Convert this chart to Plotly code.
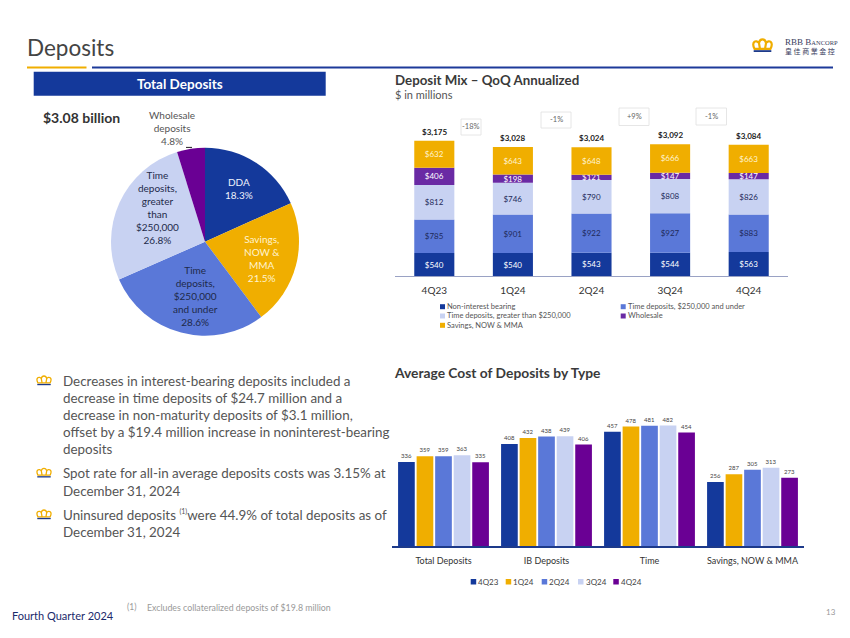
import plotly.graph_objects as go
import numpy as np

W, H = 850, 638
FONT = "Lato"
NAVY = "#14399b"
GOLD = "#f0ae00"
MID = "#5a78d8"
PALE = "#c8d2f2"
PURPLE = "#6a0094"
TXT = "#555555"

# ---------- data ----------
pie_labels = ["DDA", "Savings, NOW & MMA", "Time deposits, $250,000 and under",
              "Time deposits, greater than $250,000", "Wholesale deposits"]
pie_values = [18.3, 21.5, 28.6, 26.8, 4.8]

quarters = ["4Q23", "1Q24", "2Q24", "3Q24", "4Q24"]
non_interest = [540, 540, 543, 544, 563]
time_under = [785, 901, 922, 927, 883]
time_over = [812, 746, 790, 808, 826]
wholesale = [406, 198, 121, 147, 147]
savings = [632, 643, 648, 666, 663]
totals = [3175, 3028, 3024, 3092, 3084]
qoq_labels = ["-18%", "-1%", "+9%", "-1%"]

cost_categories = ["Total Deposits", "IB Deposits", "Time", "Savings, NOW & MMA"]
cost_4q23 = [336, 408, 457, 256]
cost_1q24 = [359, 432, 478, 287]
cost_2q24 = [359, 438, 481, 305]
cost_3q24 = [363, 439, 482, 313]
cost_4q24 = [335, 406, 454, 273]

bullets = [
    ["Decreases in interest-bearing deposits included a",
     "decrease in time deposits of $24.7 million and a",
     "decrease in non-maturity deposits of $3.1 million,",
     "offset by a $19.4 million increase in noninterest-bearing",
     "deposits"],
    ["Spot rate for all-in average deposits costs was 3.15% at",
     "December 31, 2024"],
    ["Uninsured deposits <sup><span style='font-size:7px'>(1)</span></sup>were 44.9% of total deposits as of",
     "December 31, 2024"],
]

# ---------- helpers ----------
def px(x): return x / W
def py(y): return 1 - y / H

annotations, shapes = [], []

def text(x, y, s, size=11, color=TXT, anchor="left", bold=False, family=FONT):
    annotations.append(dict(
        x=px(x), y=py(y), xref="paper", yref="paper", text=f"<b>{s}</b>" if bold else s,
        showarrow=False, xanchor=anchor, yanchor="middle", align=anchor,
        font=dict(size=size, color=color, family=family),
        borderpad=0, borderwidth=0))

def rect(x0, y0, x1, y1, fill, line=None, lw=0):
    shapes.append(dict(type="rect", xref="paper", yref="paper",
                       x0=px(x0), x1=px(x1), y0=py(y0), y1=py(y1),
                       fillcolor=fill, line=dict(color=line or fill, width=lw), layer="above"))

def crown(x, y, w, h, lw=1.2):
    def P(a, b):
        return f"{px(x + a * w):.5f},{py(y + b * h):.5f}"
    d = (f"M{P(.12,.76)} C{P(-.05,.2)} {P(.2,.03)} {P(.33,.3)} "
         f"C{P(.38,-.06)} {P(.62,-.06)} {P(.67,.3)} "
         f"C{P(.8,.03)} {P(1.05,.2)} {P(.88,.76)} Z "
         f"M{P(.33,.3)} L{P(.38,.76)} M{P(.67,.3)} L{P(.62,.76)}")
    shapes.append(dict(type="path", xref="paper", yref="paper", path=d,
                       line=dict(color=GOLD, width=lw), fillcolor="rgba(0,0,0,0)", layer="above"))
    rect(x + .08 * w, y + .86 * h, x + .92 * w, y + h, "#1d3a8a")

fig = go.Figure()

# ---------- pie ----------
cx, cy, r = 205, 241.7, 94
fig.add_trace(go.Pie(
    labels=pie_labels, values=pie_values, sort=False, direction="clockwise", rotation=0,
    marker=dict(colors=[NAVY, GOLD, MID, PALE, PURPLE], line=dict(width=0)),
    textinfo="none", showlegend=False,
    domain=dict(x=[px(cx - r), px(cx + r)], y=[py(cy + r), py(cy - r)])))

text(239, 189, "DDA<br>18.3%", 10, "#eef1fb", "center")
text(262, 259, "Savings,<br>NOW &amp;<br>MMA<br>21.5%", 10, "#fff3cf", "center")
text(195, 296, "Time<br>deposits,<br>$250,000<br>and under<br>28.6%", 10, "#1e2a4a", "center")
text(157, 208, "Time<br>deposits,<br>greater<br>than<br>$250,000<br>26.8%", 10, "#1e2a4a", "center")
text(172, 128, "Wholesale<br>deposits<br>4.8%", 10, TXT, "center")
shapes.append(dict(type="line", xref="paper", yref="paper", x0=px(186), x1=px(192),
                   y0=py(147.4), y1=py(147.4), line=dict(color="#222222", width=1)))

# ---------- stacked mix chart ----------
MIX_BOTTOM, MIX_TOP = 276, 100
PX_PER_UNIT = 0.0426
stack = [(non_interest, "Non-interest bearing", NAVY, "#ffffff"),
         (time_under, "Time deposits, $250,000 and under", MID, "#1e2a5a"),
         (time_over, "Time deposits, greater than $250,000", PALE, "#1e2a5a"),
         (wholesale, "Wholesale", "#6a2aa4", "#ffffff"),
         (savings, "Savings, NOW & MMA", GOLD, "#fff3cf")]
base = np.zeros(len(quarters))
for vals, name, col, tcol in stack:
    fig.add_trace(go.Bar(
        x=quarters, y=vals, base=base.tolist(), name=name, xaxis="x", yaxis="y",
        marker=dict(color=col, line=dict(width=0)), width=0.51, offset=-0.255,
        offsetgroup="mix", text=[f"${v}" for v in vals], textposition="inside",
        insidetextanchor="middle", constraintext="none", textangle=0,
        insidetextfont=dict(size=8, color=tcol, family=FONT), showlegend=False))
    base = base + np.array(vals)

for q, t in zip(quarters, totals):
    annotations.append(dict(x=q, y=t, xref="x", yref="y", yshift=9, showarrow=False,
                            text=f"<b>${t:,}</b>", xanchor="center", yanchor="middle",
                            font=dict(size=8, color="#222222", family=FONT)))

# ---------- cost chart ----------
COST_BOTTOM, COST_TOP = 546, 410
cost_series = [("4Q23", cost_4q23, NAVY), ("1Q24", cost_1q24, GOLD), ("2Q24", cost_2q24, MID),
               ("3Q24", cost_3q24, PALE), ("4Q24", cost_4q24, PURPLE)]
for name, vals, col in cost_series:
    fig.add_trace(go.Bar(
        x=cost_categories, y=vals, name=name, xaxis="x2", yaxis="y2",
        marker=dict(color=col, line=dict(width=0)), text=vals, textposition="outside",
        constraintext="none", textangle=0, cliponaxis=False,
        outsidetextfont=dict(size=6, color="#444444", family=FONT), showlegend=False))

# ---------- qoq boxes ----------
boxes = [(461, 119, 481, 135), (541, 112, 571, 128), (619, 108, 649, 125.5), (696, 108, 726.5, 125)]
for (x0, y0, x1, y1), s in zip(boxes, qoq_labels):
    rect(x0, y0, x1, y1, "#ffffff", "#dfdfdf", 0.8)
    text((x0 + x1) / 2, (y0 + y1) / 2, s, 7.5, "#666666", "center")

# ---------- custom legends ----------
mix_legend = [(440, 306.7, NAVY, stack[0][1]), (440, 316, PALE, stack[2][1]), (440, 325.3, GOLD, stack[4][1]),
              (620.7, 306.7, MID, stack[1][1]), (620.7, 316, "#6a2aa4", stack[3][1])]
for x, y, col, s in mix_legend:
    rect(x, y - 2.5, x + 5, y + 2.5, col)
    text(x + 6.8, y, s.replace("&", "&amp;"), 7.5, TXT)

cost_legend_x = [470.7, 505.7, 541.7, 578, 613.3]
for x, (name, _, col) in zip(cost_legend_x, cost_series):
    rect(x, 579, x + 5.5, 584.5, col)
    text(x + 7.5, 581.7, name, 8, "#444444")

# ---------- page furniture ----------
text(27, 48, "Deposits", 22.5, "#444444")
rect(27, 66.5, 86.5, 68.5, GOLD)
rect(92, 66.5, 833, 68.5, "#1d3a9a")
rect(33.7, 71.7, 325.7, 95.7, NAVY)
text(180, 83.5, "Total Deposits", 13.5, "#ffffff", "center", bold=True)
text(43, 117, "$3.08 billion", 14, "#333333", bold=True)
text(395, 80, "Deposit Mix – QoQ Annualized", 13.3, "#3a3a3a", bold=True)
text(395, 95, "$ in millions", 11, TXT)
text(394, 372, "Average Cost of Deposits by Type", 13.8, "#3a3a3a", bold=True)

crown(752, 39, 21, 13, 2.2)
text(785, 42, "RBB B<span style='font-size:6.5px'>ANCORP</span>", 9, "#3a4060", family="Liberation Serif")
text(785, 50.5, "皇 佳 商 業 金 控", 7, "#3a4060", family="Noto Sans CJK TC")

y_line = [380.7, 398, 415, 432, 449, 473, 490.7, 514.7, 531.7]
idx = 0
for group in bullets:
    crown(36, y_line[idx] - 5, 16, 9.5, 1.3)
    for line in group:
        text(63, y_line[idx], line, 13.4, TXT)
        idx += 1

text(12, 615, "Fourth Quarter 2024", 11, "#1b2a6b")
text(127, 607, "(1)", 8.5, "#999999")
text(147, 607, "Excludes collateralized deposits of $19.8 million", 8.8, "#999999")
text(826, 612, "13", 8, "#999999")

# ---------- layout ----------
axis_font = dict(size=10, color="#333333", family=FONT)
fig.update_layout(
    width=W, height=H, margin=dict(l=0, r=0, t=0, b=0), autosize=False,
    paper_bgcolor="#ffffff", plot_bgcolor="#ffffff",
    barmode="group", bargap=0.1, bargroupgap=0.1,
    annotations=annotations, shapes=shapes, hovermode=False,
    xaxis=dict(domain=[px(395), px(788)], anchor="y", type="category", showgrid=False, zeroline=False,
               showline=True, linecolor="#9aa2c4", linewidth=1, ticks="outside", ticklen=5,
               tickcolor="rgba(0,0,0,0)", tickfont=axis_font, fixedrange=True),
    yaxis=dict(domain=[py(MIX_BOTTOM), py(MIX_TOP)], anchor="x",
               range=[0, (MIX_BOTTOM - MIX_TOP) / PX_PER_UNIT], visible=False, fixedrange=True),
    xaxis2=dict(domain=[px(392), px(804)], anchor="y2", type="category", showgrid=False, zeroline=False,
                showline=True, linecolor="#1d3a8a", linewidth=1.5, ticks="outside", ticklen=5,
                tickcolor="rgba(0,0,0,0)", tickfont=dict(size=9, color="#333333", family=FONT), fixedrange=True),
    yaxis2=dict(domain=[py(COST_BOTTOM), py(COST_TOP)], anchor="x2",
                range=[0, (COST_BOTTOM - COST_TOP) / 0.25], visible=False, fixedrange=True),
)

fig.write_html("out.html", config=dict(displayModeBar=False),
               post_script="document.body.style.margin='0';document.body.style.overflow='hidden';")
